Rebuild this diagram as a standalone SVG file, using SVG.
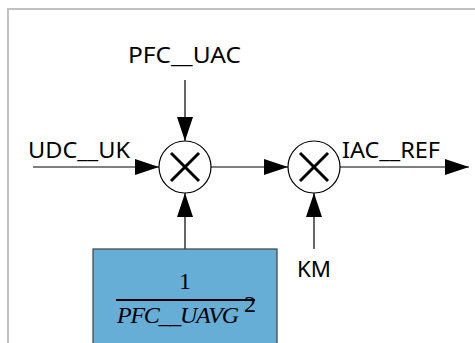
<svg xmlns="http://www.w3.org/2000/svg" width="475" height="343" viewBox="0 0 475 343">
<defs>
<marker id="ah" viewBox="0 0 24 16" refX="24" refY="8" markerWidth="24" markerHeight="16" markerUnits="userSpaceOnUse" orient="auto">
<path d="M0,0 L24,8 L0,16 Z" fill="#000"/>
</marker>
</defs>
<style>
.lbl{font-family:"Noto Sans","Open Sans",sans-serif;font-size:21px;fill:#000}
.ln{stroke:#000;stroke-width:1.2;fill:none}
.mul{fill:#fff;stroke:#000;stroke-width:1.2}
.x{stroke:#000;stroke-width:3;stroke-linecap:butt}
.math{font-family:"Liberation Serif","DejaVu Serif",serif;font-size:24px;fill:#000}
</style>
<rect x="8" y="9" width="480" height="350" fill="#fff" stroke="#c0c0c0" stroke-width="2"/>
<g id="connectors">
<line class="ln" x1="185" y1="80" x2="185" y2="141" marker-end="url(#ah)"/>
<line class="ln" x1="33" y1="167" x2="159" y2="167" marker-end="url(#ah)"/>
<line class="ln" x1="211" y1="167" x2="288" y2="167" marker-end="url(#ah)"/>
<line class="ln" x1="340" y1="167" x2="469" y2="167" marker-end="url(#ah)"/>
<line class="ln" x1="185" y1="249" x2="185" y2="193" marker-end="url(#ah)"/>
<line class="ln" x1="314" y1="249" x2="314" y2="193" marker-end="url(#ah)"/>
</g>
<g id="mul1">
<circle class="mul" cx="185" cy="167" r="26"/>
<line class="x" x1="171" y1="153" x2="199" y2="181"/>
<line class="x" x1="199" y1="153" x2="171" y2="181"/>
</g>
<g id="mul2">
<circle class="mul" cx="314" cy="167" r="26"/>
<line class="x" x1="300" y1="153" x2="328" y2="181"/>
<line class="x" x1="328" y1="153" x2="300" y2="181"/>
</g>
<g id="gain">
<rect x="93" y="249" width="184" height="110" fill="#67aed7" stroke="#404040" stroke-width="1.2"/>
<text class="math" x="185" y="289" text-anchor="middle">1</text>
<line x1="116" y1="300" x2="255" y2="300" stroke="#000" stroke-width="2"/>
<text class="math" x="117" y="323" font-style="italic" textLength="122" lengthAdjust="spacing">PFC__UAVG</text>
<text class="math" x="244" y="312" font-size="15">2</text>
</g>
<g id="labels">
<text class="lbl" x="128" y="63" textLength="113" lengthAdjust="spacingAndGlyphs">PFC__UAC</text>
<text class="lbl" x="28" y="158" textLength="102" lengthAdjust="spacingAndGlyphs">UDC__UK</text>
<text class="lbl" x="342" y="158" textLength="98" lengthAdjust="spacingAndGlyphs">IAC__REF</text>
<text class="lbl" x="297" y="277" textLength="34" lengthAdjust="spacingAndGlyphs">KM</text>
</g>
</svg>
